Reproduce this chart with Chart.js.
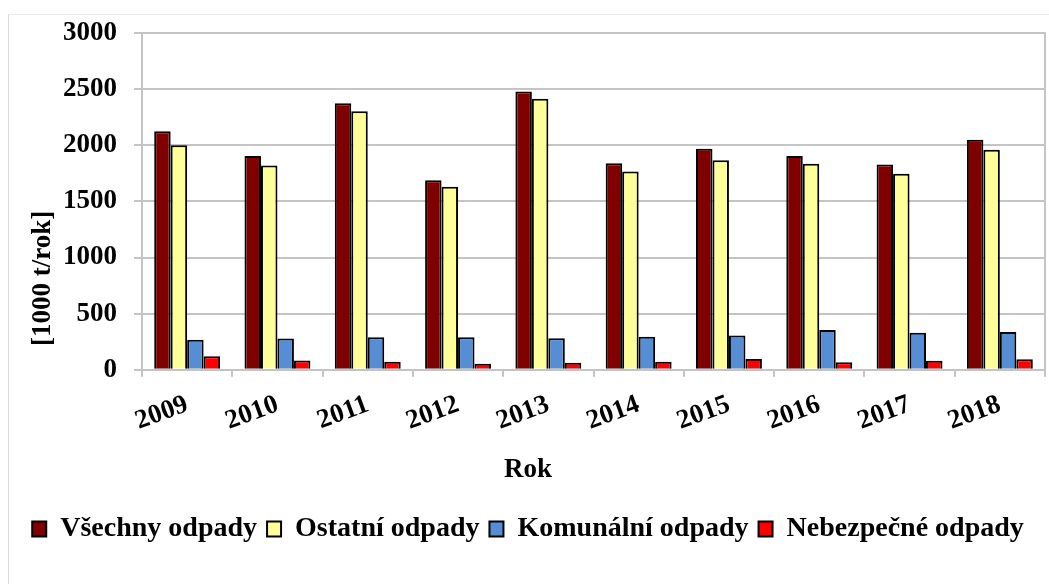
<!DOCTYPE html>
<html lang="cs">
<head>
<meta charset="utf-8">
<title>Odpady</title>
<script src="https://cdn.jsdelivr.net/npm/chart.js@4"></script>
<style>
  html, body { margin: 0; padding: 0; background: #fff; }
  #wrap { position: relative; width: 1049px; height: 584px; overflow: hidden; }
  #frame {
    position: absolute; left: 8px; top: 14px; width: 1100px; height: 600px;
    border-left: 1px solid #d9d9d9; border-top: 1px solid #ececec;
  }
  #chart { position: absolute; left: 0; top: 0; }
</style>
</head>
<body>
<div id="wrap">
  <div id="frame"></div>
  <canvas id="chart" width="1049" height="584"></canvas>
</div>
<script>
const years = ["2009", "2010", "2011", "2012", "2013", "2014", "2015", "2016", "2017", "2018"];
const vsechny = [2125, 1905, 2375, 1690, 2480, 1840, 1970, 1905, 1830, 2050];
const ostatni = [2000, 1820, 2305, 1630, 2415, 1766, 1868, 1835, 1748, 1960];
const komunalni = [268, 278, 290, 290, 281, 293, 305, 353, 329, 335];
const nebezpecne = [120, 82, 70, 52, 61, 70, 96, 67, 79, 94];
const yTicks = [0, 500, 1000, 1500, 2000, 2500, 3000];

const yTitle = "[1000 t/rok]";
const xTitle = "Rok";

const serif = "'Liberation Serif', 'Times New Roman', serif";
const gridColor = "#c4c4c4";

// y title sits lower than the chart area centre in the original
const yTitlePlugin = {
  id: "yTitle",
  afterDraw(chart) {
    const { ctx, chartArea } = chart;
    ctx.save();
    ctx.translate(43, (chartArea.top + chartArea.bottom) / 2 + 77);
    ctx.rotate(-Math.PI / 2);
    ctx.font = `bold 27px ${serif}`;
    ctx.textAlign = "center";
    ctx.textBaseline = "middle";
    ctx.fillStyle = "#000";
    ctx.fillText(yTitle, 0, 0);
    ctx.restore();
  },
};

function series(label, data, color) {
  return {
    label,
    data,
    backgroundColor: color,
    borderColor: "#000",
    borderWidth: 2,
    borderSkipped: "bottom",
    categoryPercentage: 0.73,
    barPercentage: 1,
  };
}

const ctx = document.getElementById("chart").getContext("2d");
new Chart(ctx, {
  type: "bar",
  data: {
    labels: years,
    datasets: [
      series("Všechny odpady", vsechny, "#800000"),
      series("Ostatní odpady", ostatni, "#ffff99"),
      series("Komunální odpady", komunalni, "#558ed5"),
      series("Nebezpečné odpady", nebezpecne, "#ff0000"),
    ],
  },
  options: {
    responsive: false,
    devicePixelRatio: 1,
    animation: false,
    layout: { padding: { top: 33, left: 11, right: 4, bottom: 31 } },
    scales: {
      x: {
        grid: {
          drawOnChartArea: false,
          color: gridColor,
          lineWidth: 2,
          tickLength: 7,
        },
        border: { color: gridColor, width: 2 },
        ticks: {
          color: "#000",
          font: { family: serif, size: 27, weight: "bold" },
          minRotation: 20,
          maxRotation: 20,
          padding: 12,
        },
      },
      y: {
        min: 0,
        max: 3000,
        afterBuildTicks(scale) {
          scale.ticks = yTicks.map((v) => ({ value: v }));
        },
        afterFit(scale) {
          scale.width = 131;
        },
        grid: { color: gridColor, lineWidth: 2, tickLength: 8 },
        border: { color: gridColor, width: 2 },
        ticks: {
          color: "#000",
          font: { family: serif, size: 27, weight: "bold" },
          padding: 17,
          callback: (v) => String(v),
        },
      },
      y2: {
        position: "right",
        grid: { display: false, drawTicks: false },
        ticks: { display: false },
        border: { color: gridColor, width: 2 },
      },
    },
    plugins: {
      tooltip: { enabled: false },
      title: {
        display: true,
        text: xTitle,
        position: "bottom",
        weight: 500,
        color: "#000",
        font: { family: serif, size: 27, weight: "bold" },
        padding: { top: 4, bottom: 19 },
      },
      legend: {
        position: "bottom",
        labels: {
          color: "#000",
          font: { family: serif, size: 28, weight: "bold" },
          boxWidth: 14,
          boxHeight: 15,
          padding: 10,
        },
      },
    },
  },
  plugins: [yTitlePlugin],
});
</script>
</body>
</html>
